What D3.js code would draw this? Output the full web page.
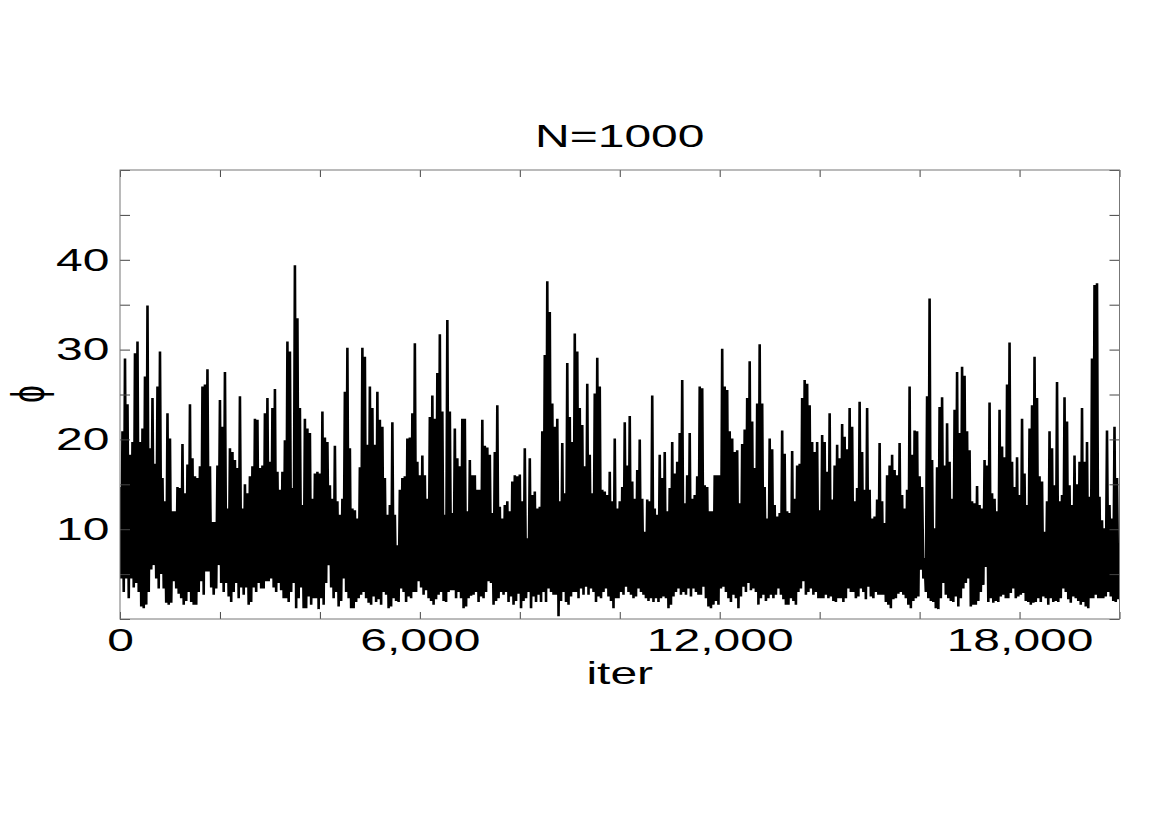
<!DOCTYPE html>
<html>
<head>
<meta charset="utf-8">
<script src="https://cdn.jsdelivr.net/npm/d3@7"></script>
<style>
  body { margin: 0; background: #fff; }
  text { font-family: "Liberation Sans", Arial, sans-serif; fill: #000; }
</style>
</head>
<body>
<div id="chart"></div>
<script>
// trace of phi, one high and one low value read per 50 iterations
var peaks = [
  // 0 - 4000
  14.7, 20.9, 29.0, 23.9, 18.3, 19.7, 29.6, 30.9, 19.7, 21.2,
  27.0, 34.9, 19.0, 24.6, 17.3, 25.9, 29.8, 15.7, 13.1, 22.9,
  20.1, 12.0, 12.0, 14.7, 14.6, 19.5, 14.0, 17.2, 23.9, 17.9,
  15.9, 15.7, 17.0, 25.9, 26.1, 27.8, 17.0, 10.8, 10.8, 17.1,
  24.4, 21.4, 27.5, 12.3, 19.0, 18.6, 17.7, 16.8, 24.8, 12.3,
  15.0, 14.0, 15.9, 17.0, 22.3, 22.2, 16.8, 17.1, 22.9, 24.6,
  17.5, 23.5, 25.6, 16.4, 14.4, 16.4, 19.9, 30.9, 29.8, 14.6,
  39.4, 33.5, 23.5, 12.7, 22.3, 21.2, 20.7, 13.4, 16.2, 16.4,
  // 4000 - 8000
  16.2, 23.1, 20.2, 19.7, 14.9, 13.4, 19.3, 13.1, 11.6, 13.4,
  25.3, 30.2, 19.0, 12.3, 12.1, 11.2, 16.9, 30.2, 29.2, 19.4,
  25.9, 23.5, 19.4, 25.3, 22.2, 21.4, 15.7, 11.6, 12.7, 21.9,
  11.6, 8.2, 14.4, 15.7, 15.9, 20.1, 20.2, 22.9, 30.7, 17.5,
  16.0, 18.2, 16.0, 13.4, 22.5, 24.9, 22.3, 27.4, 31.7, 23.1,
  11.6, 33.3, 23.1, 11.8, 21.2, 17.9, 17.0, 22.3, 22.3, 12.0,
  17.7, 16.0, 16.0, 14.4, 14.4, 22.2, 19.3, 19.1, 18.3, 11.8,
  18.6, 23.8, 12.5, 11.2, 12.7, 13.1, 12.0, 15.3, 16.0, 15.9,
  // 8000 - 12000
  16.1, 13.1, 19.0, 9.0, 17.9, 13.8, 14.2, 12.3, 12.5, 20.9,
  29.4, 37.6, 34.2, 24.0, 21.4, 22.3, 13.1, 19.6, 14.0, 28.5,
  22.5, 19.7, 31.8, 29.8, 23.5, 21.6, 17.0, 26.2, 18.3, 14.0,
  25.1, 29.1, 25.9, 14.4, 14.2, 13.8, 16.4, 13.1, 20.1, 12.3,
  13.1, 14.7, 21.9, 17.1, 22.6, 15.3, 13.4, 16.6, 20.0, 13.4,
  9.7, 13.3, 13.1, 24.9, 12.3, 11.6, 18.3, 15.7, 18.6, 12.0,
  14.6, 19.7, 16.2, 17.5, 20.7, 26.6, 12.9, 16.0, 20.7, 13.4,
  13.8, 15.9, 25.9, 25.7, 14.9, 14.7, 12.0, 12.0, 16.0, 16.0,
  // 12000 - 16000
  16.0, 30.1, 25.9, 25.5, 20.9, 20.1, 18.6, 18.8, 12.9, 19.5,
  21.1, 24.6, 28.7, 22.0, 16.8, 24.0, 30.6, 24.0, 14.7, 11.2,
  20.1, 18.9, 12.7, 11.4, 11.8, 21.0, 18.4, 12.0, 11.8, 18.7,
  13.4, 17.1, 17.3, 24.6, 26.6, 26.2, 23.8, 19.7, 18.6, 19.7,
  12.1, 20.5, 19.7, 16.4, 22.9, 13.3, 17.1, 19.4, 17.9, 21.7,
  20.3, 18.9, 23.5, 21.4, 13.1, 14.6, 24.2, 18.6, 14.4, 23.5,
  14.4, 11.2, 11.4, 13.3, 19.6, 13.1, 10.7, 16.0, 17.1, 18.3,
  16.6, 16.0, 19.6, 13.8, 12.3, 14.4, 25.9, 18.3, 21.0, 20.9,
  // 16000 - 20000
  15.9, 14.7, 6.8, 24.8, 35.7, 17.7, 10.1, 16.9, 23.6, 24.7,
  17.1, 21.8, 17.5, 13.4, 23.3, 27.5, 20.7, 28.1, 27.1, 20.9,
  18.8, 13.1, 12.9, 14.8, 12.7, 12.3, 17.7, 17.1, 24.1, 14.0,
  13.4, 12.0, 23.3, 19.2, 18.0, 26.1, 30.8, 17.5, 14.7, 18.0,
  13.8, 22.3, 16.2, 12.7, 21.2, 23.8, 29.2, 24.6, 15.9, 15.3,
  9.7, 13.1, 20.9, 19.0, 14.9, 26.4, 13.1, 13.8, 24.7, 22.0,
  14.9, 12.7, 18.2, 15.0, 17.5, 23.5, 17.5, 19.7, 13.6, 29.0,
  37.2, 37.4, 13.6, 11.0, 10.1, 21.0, 12.7, 11.2, 21.4, 15.7
];

var troughs = [
  // 0 - 4000
  4.5, 3.0, 4.5, 2.3, 4.5, 3.5, 4.0, 3.0, 1.4, 1.2,
  1.6, 3.0, 5.5, 6.0, 4.5, 3.4, 5.0, 3.4, 1.8, 1.6,
  1.8, 4.2, 3.4, 2.8, 2.3, 1.6, 2.0, 3.0, 1.9, 1.6,
  1.6, 3.0, 4.2, 2.7, 5.3, 5.3, 3.5, 2.7, 3.4, 6.0,
  4.0, 3.0, 4.0, 2.5, 1.9, 3.0, 4.0, 2.3, 3.5, 2.7,
  3.5, 1.6, 1.9, 3.5, 3.0, 4.0, 3.4, 3.4, 4.2, 4.2,
  4.5, 3.5, 3.0, 4.0, 3.2, 2.3, 2.3, 1.9, 3.0, 4.0,
  1.2, 2.3, 3.5, 1.2, 1.2, 2.5, 1.6, 2.3, 2.3, 1.1,
  // 4000 - 8000
  2.3, 1.6, 4.0, 6.0, 3.5, 2.3, 3.0, 1.4, 2.0, 4.5,
  3.0, 2.3, 1.2, 1.2, 1.9, 2.3, 2.7, 3.0, 2.3, 1.8,
  1.6, 2.5, 1.9, 2.2, 1.6, 3.0, 2.7, 1.2, 1.4, 2.3,
  2.0, 1.9, 3.4, 3.0, 1.9, 2.5, 2.3, 3.0, 3.0, 4.2,
  3.5, 2.7, 3.2, 2.3, 2.0, 1.6, 2.2, 2.7, 3.0, 2.0,
  1.9, 3.0, 3.2, 3.2, 2.3, 3.0, 2.3, 1.2, 1.4, 2.3,
  2.6, 2.7, 3.0, 1.9, 2.5, 2.3, 3.0, 4.2, 4.0, 1.6,
  2.0, 2.3, 3.0, 2.7, 3.0, 1.9, 2.5, 1.6, 2.0, 2.8,
  // 8000 - 12000
  1.2, 2.0, 2.3, 3.0, 1.2, 2.5, 1.9, 2.7, 1.9, 3.0,
  1.9, 3.4, 3.0, 2.7, 2.7, 0.3, 2.0, 3.0, 1.9, 1.6,
  2.5, 3.0, 3.0, 2.3, 3.4, 2.7, 3.6, 2.7, 3.4, 3.0,
  1.9, 2.5, 2.3, 3.0, 3.4, 2.5, 2.0, 1.2, 2.3, 2.3,
  3.0, 2.7, 3.6, 3.0, 2.7, 2.3, 2.5, 3.4, 3.0, 2.7,
  2.3, 2.0, 2.3, 1.9, 2.3, 1.9, 2.3, 2.5, 2.3, 1.2,
  1.6, 2.5, 3.0, 3.4, 2.7, 3.0, 2.7, 3.4, 2.5, 3.4,
  3.0, 2.7, 2.7, 3.6, 2.3, 1.4, 1.2, 1.6, 2.0, 1.6,
  // 12000 - 16000
  3.4, 3.6, 3.0, 2.3, 1.9, 2.7, 2.3, 1.2, 2.5, 3.6,
  3.0, 4.0, 3.2, 3.4, 3.0, 1.6, 2.3, 2.7, 2.0, 2.3,
  2.7, 2.3, 2.7, 3.4, 2.7, 2.2, 1.6, 1.6, 2.3, 2.0,
  1.6, 3.0, 3.4, 4.2, 2.7, 3.0, 3.4, 2.7, 3.0, 2.3,
  2.3, 2.3, 2.7, 2.3, 2.5, 2.0, 1.9, 2.3, 2.3, 1.9,
  2.3, 3.4, 3.0, 3.0, 2.3, 2.5, 3.4, 3.0, 2.2, 3.6,
  2.5, 2.3, 3.0, 2.7, 2.7, 2.7, 1.9, 1.6, 1.2, 2.2,
  2.3, 2.8, 3.0, 2.7, 2.3, 1.6, 1.2, 2.0, 2.3, 2.5,
  // 16000 - 20000
  5.5, 4.5, 3.0, 2.3, 2.0, 1.9, 1.2, 1.1, 2.3, 4.0,
  2.7, 2.3, 2.0, 1.9, 2.5, 1.4, 2.3, 3.4, 4.0, 4.5,
  1.4, 1.6, 1.6, 2.0, 3.0, 3.8, 5.8, 1.9, 2.3, 1.8,
  2.0, 1.9, 2.5, 2.7, 2.3, 2.3, 2.9, 3.4, 2.3, 2.5,
  2.7, 2.9, 2.0, 1.9, 1.6, 1.8, 1.9, 2.3, 1.9, 2.5,
  2.3, 1.6, 2.3, 1.9, 2.0, 1.9, 2.3, 3.4, 3.0, 2.2,
  1.8, 2.5, 2.3, 2.0, 1.6, 1.9, 1.4, 1.2, 2.3, 2.3,
  2.7, 2.3, 2.3, 2.3, 2.5, 3.0, 2.5, 2.0, 1.9, 2.2
];

var step = 50;
var xTicks = [0, 2000, 4000, 6000, 8000, 10000, 12000, 14000, 16000, 18000, 20000];
var xLabels = [0, 6000, 12000, 18000];
var yTicks = [0, 5, 10, 15, 20, 25, 30, 35, 40, 45, 50];
var yLabels = [10, 20, 30, 40];
var title = "N=1000";
var xTitle = "iter";
var yTitle = "\u03d5";

function drawChart() {
    var width = 1170, height = 827;
    var pLeft = 120, pRight = 1119.5, pTop = 170, pBottom = 619;
    var stretch = "scale(1.5,1)";   // glyphs in the picture are wide

    var svg = d3.select("#chart").append("svg")
        .attr("width", width).attr("height", height);
    svg.append("rect").attr("width", width).attr("height", height).style("fill", "white");

    var xScale = d3.scaleLinear().domain([0, 20000]).range([pLeft, pRight]);
    var yScale = d3.scaleLinear().domain([0, 50]).range([pBottom, pTop]);

    // interleave highs and lows
    var series = [];
    for (var i = 0; i < peaks.length; i++) {
        series.push({iter: i * step, phi: peaks[i]});
        series.push({iter: i * step + step / 2, phi: troughs[i]});
    }

    svg.append("clipPath").attr("id", "clip")
        .append("rect")
        .attr("x", pLeft).attr("y", pTop)
        .attr("width", pRight - pLeft).attr("height", pBottom - pTop);

    svg.append("path")
        .datum(series)
        .attr("clip-path", "url(#clip)")
        .attr("d", d3.line().x(d => xScale(d.iter)).y(d => yScale(d.phi)))
        .style("fill", "none")
        .style("stroke", "black")
        .style("stroke-width", 2.6);

    // axes, MATLAB style with ticks pointing in
    var fmt = d3.format(",");
    var xBottom = d3.axisBottom(xScale).tickValues(xTicks).tickSizeInner(-7).tickSizeOuter(0).tickPadding(9)
        .tickFormat(d => xLabels.indexOf(d) >= 0 ? fmt(d) : "");
    var xTop = d3.axisTop(xScale).tickValues(xTicks).tickSizeInner(-7).tickSizeOuter(0).tickFormat("");
    var yLeft = d3.axisLeft(yScale).tickValues(yTicks).tickSizeInner(-10).tickSizeOuter(0).tickPadding(7)
        .tickFormat(d => yLabels.indexOf(d) >= 0 ? d : "");
    var yRight = d3.axisRight(yScale).tickValues(yTicks).tickSizeInner(-10).tickSizeOuter(0).tickFormat("");

    svg.append("g").attr("transform", "translate(0," + pBottom + ")").call(xBottom);
    svg.append("g").attr("transform", "translate(0," + pTop + ")").call(xTop);
    svg.append("g").attr("transform", "translate(" + pLeft + ",0)").call(yLeft);
    svg.append("g").attr("transform", "translate(" + pRight + ",0)").call(yRight);

    svg.selectAll(".domain").remove();
    svg.selectAll(".tick line").style("stroke", "#444");
    svg.selectAll(".tick text")
        .attr("transform", stretch)
        .style("font-size", "32px")
        .style("font-family", "'Liberation Sans', Arial, sans-serif")
        .style("fill", "black");

    svg.append("rect")
        .attr("x", pLeft).attr("y", pTop)
        .attr("width", pRight - pLeft).attr("height", pBottom - pTop)
        .style("fill", "none").style("stroke", "#777").style("stroke-width", 1);

    svg.append("text")
        .attr("transform", "translate(" + (pLeft + pRight) / 2 + ",147) " + stretch)
        .attr("text-anchor", "middle")
        .style("font-size", "32px")
        .text(title);

    svg.append("text")
        .attr("transform", "translate(" + (pLeft + pRight) / 2 + ",684) " + stretch)
        .attr("text-anchor", "middle")
        .style("font-size", "32px")
        .text(xTitle);

    svg.append("text")
        .attr("transform", "translate(44,394) " + stretch + " rotate(-90)")
        .attr("text-anchor", "middle")
        .style("font-size", "31px")
        .text(yTitle);
}

drawChart();
</script>
</body>
</html>
